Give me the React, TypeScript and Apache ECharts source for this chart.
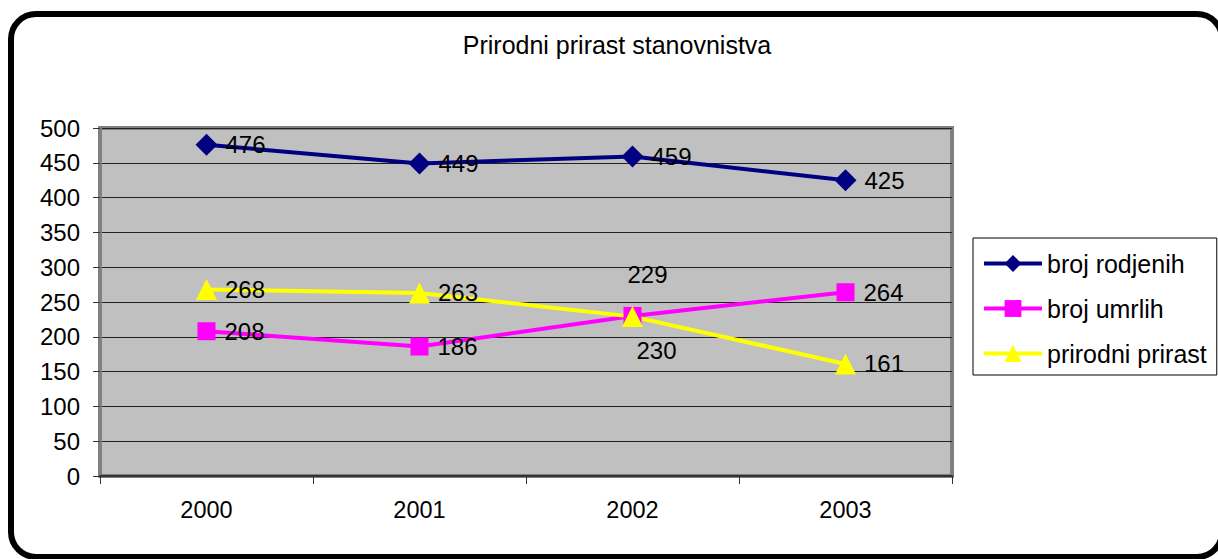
import React, { useEffect, useRef } from "react";
import * as echarts from "echarts";

const titleText = "Prirodni prirast stanovnistva";
const years = ["2000", "2001", "2002", "2003"];
const rodjeni = [476, 449, 459, 425];
const umrli = [208, 186, 230, 264];
const prirast = [268, 263, 229, 161];
const seriesNames = ["broj rodjenih", "broj umrlih", "prirodni prirast"];
const yMin = 0;
const yMax = 500;
const yStep = 50;

const FONT = "'Liberation Sans', Arial, sans-serif";

export default function App() {
  const ref = useRef<HTMLDivElement>(null);

  useEffect(() => {
    if (!ref.current) return;
    const chart = echarts.init(ref.current, undefined, { renderer: "svg" });

    const baseLabel = {
      show: true,
      position: "right",
      distance: 8,
      color: "#000",
      fontSize: 24,
      fontFamily: FONT,
    };

    const umrliData = umrli.map((v, i) =>
      i === 2
        ? { value: v, label: { position: "bottom", distance: 14, offset: [24, 0] } }
        : v
    );
    const prirastData = prirast.map((v, i) =>
      i === 2
        ? { value: v, label: { position: "top", distance: 20, offset: [15, 0] } }
        : v
    );

    chart.setOption({
      animation: false,
      backgroundColor: "#fff",
      textStyle: { fontFamily: FONT },
      title: {
        text: titleText,
        left: 617,
        top: 32,
        padding: 0,
        textAlign: "center",
        textStyle: { fontSize: 25, fontWeight: "normal", color: "#000", fontFamily: FONT },
      },
      graphic: [
        {
          type: "rect",
          shape: { x: 11, y: 14, width: 1211, height: 543, r: 25 },
          style: { fill: "none", stroke: "#000", lineWidth: 6 },
          silent: true,
          z: 100,
        },
      ],
      legend: {
        orient: "vertical",
        left: 973,
        top: 238,
        padding: [13, 10, 9, 9],
        itemWidth: 58,
        itemHeight: 21,
        itemGap: 20,
        borderColor: "#000",
        borderWidth: 1,
        lineStyle: { width: 4 },
        textStyle: { fontSize: 25, color: "#000", fontFamily: FONT, lineHeight: 21 },
        data: seriesNames,
      },
      grid: {
        left: 100,
        right: 266,
        top: 128,
        bottom: 83,
        show: true,
        backgroundColor: "#C0C0C0",
        borderColor: "#808080",
        borderWidth: 4,
      },
      xAxis: {
        type: "category",
        data: years,
        boundaryGap: true,
        axisLine: { show: true, lineStyle: { color: "#333", width: 2 } },
        axisTick: { show: true, length: 8, lineStyle: { color: "#333", width: 1 } },
        axisLabel: { margin: 22, fontSize: 23.5, color: "#000", fontFamily: FONT },
        splitLine: { show: false },
      },
      yAxis: {
        type: "value",
        min: yMin,
        max: yMax,
        interval: yStep,
        axisLine: { show: true, lineStyle: { color: "#808080", width: 3 } },
        axisTick: { show: true, length: 7, lineStyle: { color: "#333", width: 1 } },
        axisLabel: { margin: 20, fontSize: 24, color: "#000", fontFamily: FONT },
        splitLine: { show: true, lineStyle: { color: "#222", width: 1 } },
      },
      series: [
        {
          name: seriesNames[0],
          type: "line",
          data: rodjeni,
          symbol: "diamond",
          symbolSize: 22,
          lineStyle: { color: "#000080", width: 4 },
          itemStyle: { color: "#000080" },
          label: baseLabel,
        },
        {
          name: seriesNames[1],
          type: "line",
          data: umrliData,
          symbol: "rect",
          symbolSize: 18,
          lineStyle: { color: "#FF00FF", width: 4 },
          itemStyle: { color: "#FF00FF" },
          label: { ...baseLabel, distance: 9 },
        },
        {
          name: seriesNames[2],
          type: "line",
          data: prirastData,
          symbol: "triangle",
          symbolSize: 21,
          lineStyle: { color: "#FFFF00", width: 4 },
          itemStyle: { color: "#FFFF00" },
          label: { ...baseLabel, distance: 8 },
        },
      ],
    });

    return () => chart.dispose();
  }, []);

  return (
    <div
      ref={ref}
      style={{ position: "absolute", left: 0, top: 0, width: 1218, height: 559 }}
    />
  );
}
